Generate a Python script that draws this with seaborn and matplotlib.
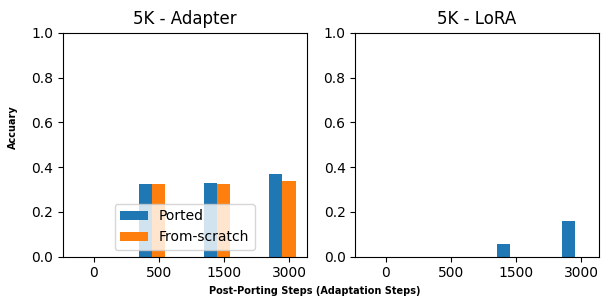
import matplotlib
matplotlib.use("Agg")
import matplotlib.pyplot as plt
import seaborn as sns
import pandas as pd

steps = ["0", "500", "1500", "3000"]
series = ["Ported", "From-scratch"]
adapter_ported = [0.0, 0.325, 0.33, 0.37]
adapter_scratch = [0.0, 0.325, 0.325, 0.34]
lora_ported = [0.0, 0.0, 0.055, 0.16]
lora_scratch = [0.0, 0.0, 0.0, 0.0]
titles = ["5K - Adapter", "5K - LoRA"]

def make_df(ported, scratch):
    rows = []
    for s, p, f in zip(steps, ported, scratch):
        rows.append({"step": s, "method": series[0], "acc": p})
        rows.append({"step": s, "method": series[1], "acc": f})
    return pd.DataFrame(rows)

fig, axes = plt.subplots(1, 2, figsize=(6.08, 3.06), dpi=100)
fig.subplots_adjust(left=0.1036, right=0.985, top=0.893, bottom=0.161, wspace=0.2)

palette = {"Ported": "#1f77b4", "From-scratch": "#ff7f0e"}
data = [make_df(adapter_ported, adapter_scratch), make_df(lora_ported, lora_scratch)]

for i, (ax, df, t) in enumerate(zip(axes, data, titles)):
    sns.barplot(data=df, x="step", y="acc", hue="method", order=steps,
                hue_order=series, palette=palette, width=0.4, saturation=1,
                errorbar=None, ax=ax, legend=(i == 0))
    ax.set_xticks([k + 0.1 for k in range(len(steps))])
    ax.set_xticklabels(steps)
    ax.set_xlim(-0.37, 3.37)
    ax.set_ylim(0, 1.0)
    ax.set_yticks([0, 0.2, 0.4, 0.6, 0.8, 1.0])
    ax.set_title(t, fontsize=12)
    ax.set_xlabel("")
    ax.set_ylabel("")
    ax.tick_params(labelsize=10)
    for sp in ax.spines.values():
        sp.set_visible(True)

axes[0].legend(loc="lower center", fontsize=10)
fig.text(0.022, 0.585, "Accuary", fontsize=7, fontweight="bold",
         rotation=90, ha="center", va="center")
fig.text(0.518, 0.049, "Post-Porting Steps (Adaptation Steps)", fontsize=7,
         fontweight="bold", ha="center", va="center")

fig.savefig("out.png", dpi=100)
